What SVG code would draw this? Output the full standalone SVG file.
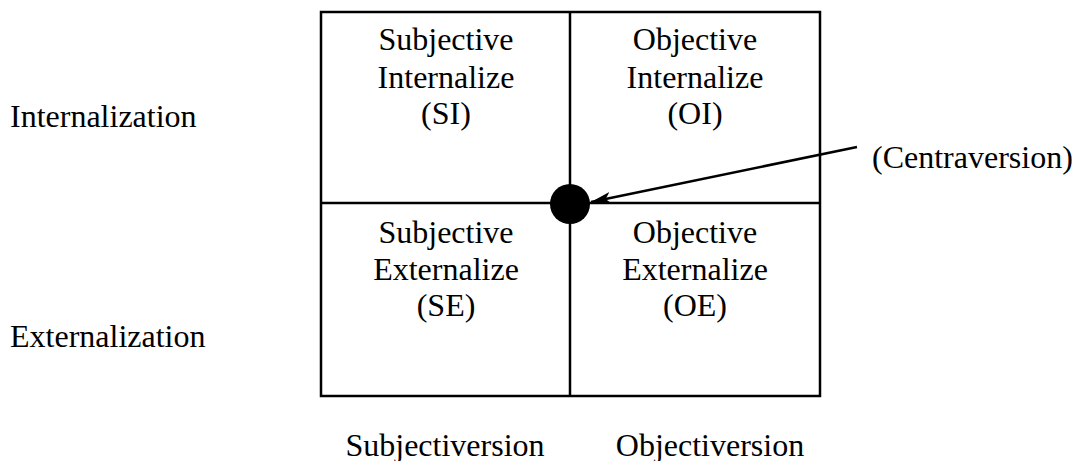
<svg xmlns="http://www.w3.org/2000/svg" width="1081" height="461" viewBox="0 0 1081 461">
<defs>
<style>
text{font-family:"Liberation Serif","Times New Roman",serif;font-size:32px;fill:#000}
.c{text-anchor:middle}
.ln{stroke:#000;stroke-width:2.5;fill:none}
</style>
<marker id="ah2" viewBox="0 0 20 12" refX="20" refY="6" markerWidth="20" markerHeight="12" markerUnits="userSpaceOnUse" orient="auto">
<path d="M0,0 L20,6 L0,12 L5,6 z" fill="#000"/>
</marker>
</defs>
<rect width="1081" height="461" fill="#fff"/>
<g id="grid">
<rect class="ln" x="321" y="12" width="499" height="384"/>
<line class="ln" x1="570" y1="12" x2="570" y2="396"/>
<line class="ln" x1="321" y1="203" x2="820" y2="203"/>
</g>
<g id="si"><text class="c" x="446" y="50">Subjective</text><text class="c" x="446" y="88">Internalize</text><text class="c" x="446" y="124">(SI)</text></g>
<g id="oi"><text class="c" x="695" y="50">Objective</text><text class="c" x="695" y="88">Internalize</text><text class="c" x="695" y="124">(OI)</text></g>
<g id="se"><text class="c" x="446" y="243">Subjective</text><text class="c" x="446" y="280">Externalize</text><text class="c" x="446" y="316">(SE)</text></g>
<g id="oe"><text class="c" x="695" y="243">Objective</text><text class="c" x="695" y="280">Externalize</text><text class="c" x="695" y="316">(OE)</text></g>
<g id="center"><circle cx="570" cy="204" r="20" fill="#000"/></g>
<g id="labels">
<text x="10" y="127">Internalization</text>
<text x="10" y="347">Externalization</text>
<text class="c" x="445" y="456">Subjectiversion</text>
<text class="c" x="710" y="456">Objectiversion</text>
<text id="centraversion" x="872" y="168">(Centraversion)</text>
</g>
<g id="connectors">
<line class="ln" x1="857" y1="147" x2="591" y2="202" marker-end="url(#ah2)"/>
</g>
</svg>
